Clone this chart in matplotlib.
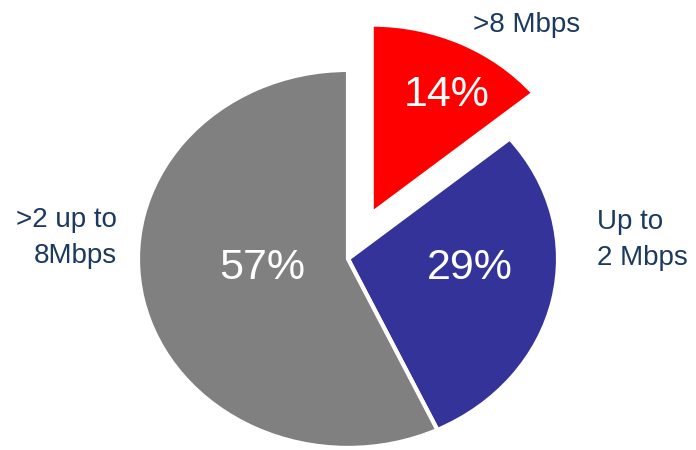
# pie chart of broadband speed shares
import matplotlib.pyplot as plt

# data
categories = ['>8 Mbps', 'Up to\n2 Mbps', '>2 up to\n8Mbps']
shares = [14, 29, 57]
colors = ['#ff0000', '#333399', '#808080']
explode = [0.265, 0.0, 0.0]

plt.rcParams['font.family'] = ['Liberation Sans', 'DejaVu Sans']
label_color = '#1c3a5e'

fig = plt.figure(figsize=(6.96, 4.5), dpi=100)
ax = fig.add_axes([0, 0, 1, 1])

wedges, texts, autotexts = ax.pie(shares, labels=categories, colors=colors,
                                  explode=explode, startangle=90, counterclock=False,
                                  autopct='%d%%', pctdistance=0.65,
                                  wedgeprops=dict(edgecolor='white', linewidth=3),
                                  textprops=dict(color=label_color, fontsize=20))

# stretch the pie a bit horizontally like the original
ax.set_aspect('auto')
ax.set_xlim(-1.657, 1.657)
ax.set_ylim(-1.011, 1.370)
ax.axis('off')

# percentage labels
pct_pos = [(0.471, 0.868), (0.581, -0.048), (-0.41, -0.048)]
for t, p in zip(autotexts, pct_pos):
    t.set_position(p)
    t.set_color('white')
    t.set_fontsize(31)
    t.set_ha('center')
    t.set_va('center')

# category labels
lab_pos = [(0.595, 1.238, 'left'), (1.186, 0.10, 'left'), (-1.10, 0.11, 'right')]
for t, (x, y, ha) in zip(texts, lab_pos):
    t.set_position((x, y))
    t.set_ha(ha)
    t.set_multialignment(ha)
    t.set_va('center')
    t.set_linespacing(1.5)

plt.savefig('out.png', dpi=100)
